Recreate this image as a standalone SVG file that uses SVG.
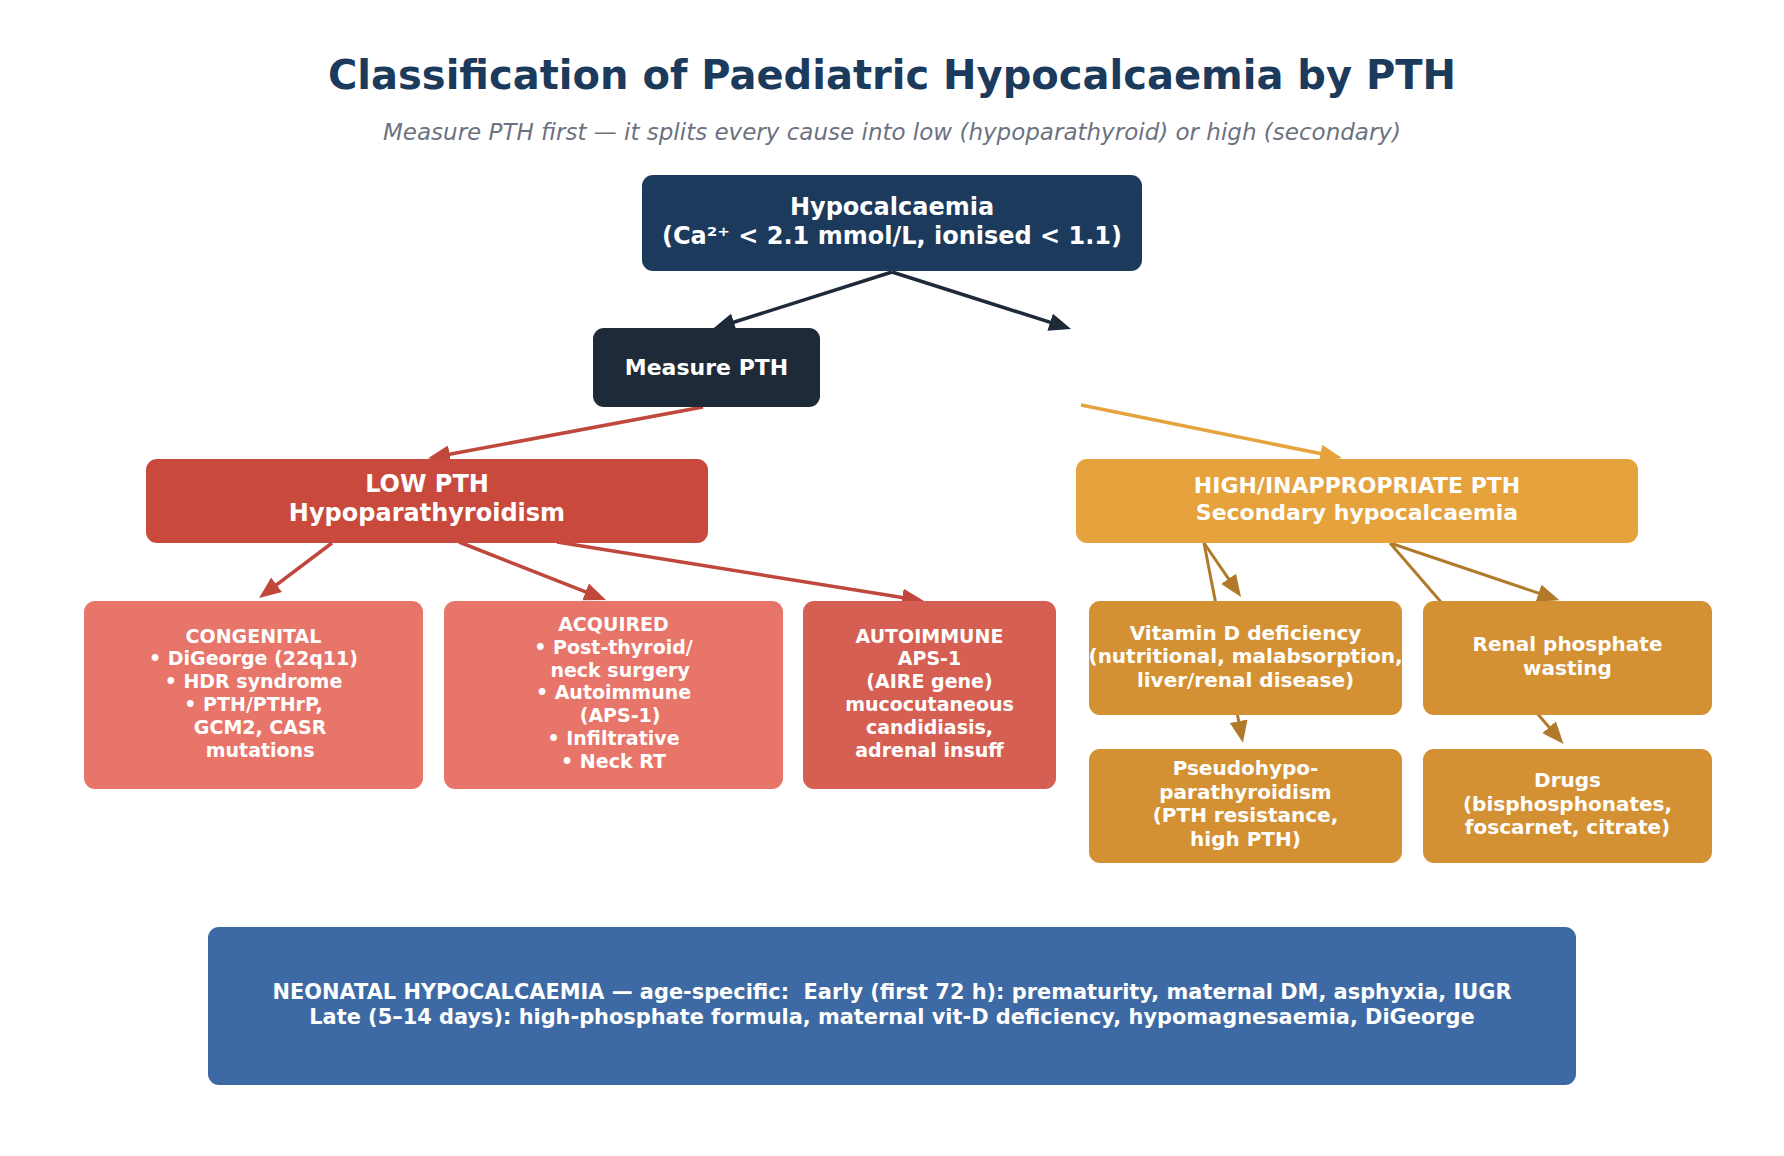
<svg xmlns="http://www.w3.org/2000/svg" width="1784" height="1156" viewBox="0 0 1784 1156">
<style>
text{font-family:"DejaVu Sans","Liberation Sans",sans-serif;font-weight:bold;fill:#ffffff;text-anchor:middle;white-space:pre}
.title{font-size:40px;fill:#1b3a5c}
.sub{font-size:23px;font-weight:normal;font-style:italic;fill:#6b7280}
.t24{font-size:24px}
.t22{font-size:22px}
.t21{font-size:22px}
.t19{font-size:19px}
.t20{font-size:20px}
.nn{font-size:20.9px}
.dark{stroke:#1f2a38;stroke-width:3.5;fill:none}
.red{stroke:#c0473b;stroke-width:3.5;fill:none}
.org{stroke:#e6a23c;stroke-width:3.5;fill:none}
.brn{stroke:#b07a2a;stroke-width:3;fill:none}
</style>
<defs>
<marker id="mDark" markerUnits="userSpaceOnUse" viewBox="0 0 22 18" markerWidth="22" markerHeight="18" refX="11" refY="9" orient="auto"><path d="M0,0 L22,9 L0,18 z" fill="#1f2a38"/></marker>
<marker id="mRed" markerUnits="userSpaceOnUse" viewBox="0 0 22 18" markerWidth="22" markerHeight="18" refX="11" refY="9" orient="auto"><path d="M0,0 L22,9 L0,18 z" fill="#c0473b"/></marker>
<marker id="mOrg" markerUnits="userSpaceOnUse" viewBox="0 0 22 18" markerWidth="22" markerHeight="18" refX="11" refY="9" orient="auto"><path d="M0,0 L22,9 L0,18 z" fill="#e6a23c"/></marker>
<marker id="mBrn" markerUnits="userSpaceOnUse" viewBox="0 0 22 18" markerWidth="22" markerHeight="18" refX="11" refY="9" orient="auto"><path d="M0,0 L22,9 L0,18 z" fill="#b07a2a"/></marker>
</defs>
<rect width="1784" height="1156" fill="#ffffff"/>
<text class="title" x="892" y="89">Classification of Paediatric Hypocalcaemia by PTH</text>
<text class="sub" x="892" y="140">Measure PTH first — it splits every cause into low (hypoparathyroid) or high (secondary)</text>

<g id="connectors">
<line class="dark" x1="892" y1="272" x2="723.4" y2="325.5" marker-end="url(#mDark)"/>
<line class="dark" x1="892" y1="272" x2="1060.6" y2="325.6" marker-end="url(#mDark)"/>
<line class="red" x1="703" y1="407" x2="438.8" y2="456.3" marker-end="url(#mRed)"/>
<line class="org" x1="1081" y1="405" x2="1331.2" y2="455.8" marker-end="url(#mOrg)"/>
<line class="red" x1="332" y1="543" x2="267.8" y2="591.4" marker-end="url(#mRed)"/>
<line class="red" x1="459" y1="542" x2="595.8" y2="595.9" marker-end="url(#mRed)"/>
<line class="red" x1="557" y1="542" x2="913.1" y2="599.3" marker-end="url(#mRed)"/>
<line class="brn" x1="1204" y1="543" x2="1234.8" y2="587.9" marker-end="url(#mBrn)"/>
<line class="brn" x1="1204" y1="543" x2="1240.8" y2="732" marker-end="url(#mBrn)"/>
<line class="brn" x1="1390" y1="543" x2="1549" y2="596.7" marker-end="url(#mBrn)"/>
<line class="brn" x1="1390" y1="543" x2="1556.3" y2="735.6" marker-end="url(#mBrn)"/>
</g>

<g id="n-hypocalcaemia">
<rect x="642" y="175" width="500" height="96" rx="11" fill="#1b3a5c"/>
<text class="t24" x="892" y="215">Hypocalcaemia</text>
<text class="t24" x="892" y="244">(Ca²⁺ &lt; 2.1 mmol/L, ionised &lt; 1.1)</text>
</g>
<g id="n-measure">
<rect x="593" y="328" width="227" height="79" rx="11" fill="#1f2a38"/>
<text class="t22" x="706.5" y="375">Measure PTH</text>
</g>
<g id="n-low">
<rect x="146" y="459" width="562" height="84" rx="11" fill="#c94a3d"/>
<text class="t24" x="427" y="492">LOW PTH</text>
<text class="t24" x="427" y="521">Hypoparathyroidism</text>
</g>
<g id="n-high">
<rect x="1076" y="459" width="562" height="84" rx="11" fill="#e6a23c"/>
<text class="t21" x="1357" y="493">HIGH/INAPPROPRIATE PTH</text>
<text class="t21" x="1357" y="520">Secondary hypocalcaemia</text>
</g>
<g id="n-congenital">
<rect x="84" y="601" width="339" height="188" rx="11" fill="#e8756a"/>
<text class="t19" x="253.5" y="642.5">CONGENITAL</text>
<text class="t19" x="253.5" y="665.3">• DiGeorge (22q11)</text>
<text class="t19" x="253.5" y="688.1">• HDR syndrome</text>
<text class="t19" x="253.5" y="710.9">• PTH/PTHrP,</text>
<text class="t19" x="253.5" y="733.7">  GCM2, CASR</text>
<text class="t19" x="253.5" y="756.5">  mutations</text>
</g>
<g id="n-acquired">
<rect x="444" y="601" width="339" height="188" rx="11" fill="#e8756a"/>
<text class="t19" x="613.5" y="631">ACQUIRED</text>
<text class="t19" x="613.5" y="653.8">• Post-thyroid/</text>
<text class="t19" x="613.5" y="676.6">  neck surgery</text>
<text class="t19" x="613.5" y="699.4">• Autoimmune</text>
<text class="t19" x="613.5" y="722.2">  (APS-1)</text>
<text class="t19" x="613.5" y="745">• Infiltrative</text>
<text class="t19" x="613.5" y="767.8">• Neck RT</text>
</g>
<g id="n-autoimmune">
<rect x="803" y="601" width="253" height="188" rx="11" fill="#d65f53"/>
<text class="t19" x="929.5" y="642.5">AUTOIMMUNE</text>
<text class="t19" x="929.5" y="665.3">APS-1</text>
<text class="t19" x="929.5" y="688.1">(AIRE gene)</text>
<text class="t19" x="929.5" y="710.9">mucocutaneous</text>
<text class="t19" x="929.5" y="733.7">candidiasis,</text>
<text class="t19" x="929.5" y="756.5">adrenal insuff</text>
</g>
<g id="n-vitd">
<rect x="1089" y="601" width="313" height="114" rx="11" fill="#d49133"/>
<text class="t20" x="1245.5" y="639.5">Vitamin D deficiency</text>
<text class="t20" x="1245.5" y="663">(nutritional, malabsorption,</text>
<text class="t20" x="1245.5" y="686.5">liver/renal disease)</text>
</g>
<g id="n-renal">
<rect x="1423" y="601" width="289" height="114" rx="11" fill="#d49133"/>
<text class="t20" x="1567.5" y="651">Renal phosphate</text>
<text class="t20" x="1567.5" y="674.5">wasting</text>
</g>
<g id="n-pseudo">
<rect x="1089" y="749" width="313" height="114" rx="11" fill="#d49133"/>
<text class="t20" x="1245.5" y="775">Pseudohypo-</text>
<text class="t20" x="1245.5" y="798.5">parathyroidism</text>
<text class="t20" x="1245.5" y="822">(PTH resistance,</text>
<text class="t20" x="1245.5" y="845.5">high PTH)</text>
</g>
<g id="n-drugs">
<rect x="1423" y="749" width="289" height="114" rx="11" fill="#d49133"/>
<text class="t20" x="1567.5" y="787">Drugs</text>
<text class="t20" x="1567.5" y="810.5">(bisphosphonates,</text>
<text class="t20" x="1567.5" y="834">foscarnet, citrate)</text>
</g>
<g id="n-neonatal">
<rect x="208" y="927" width="1368" height="158" rx="11" fill="#3d6aa4"/>
<text class="nn" x="892" y="999">NEONATAL HYPOCALCAEMIA — age-specific:  Early (first 72 h): prematurity, maternal DM, asphyxia, IUGR</text>
<text class="nn" x="892" y="1024">Late (5–14 days): high-phosphate formula, maternal vit-D deficiency, hypomagnesaemia, DiGeorge</text>
</g>
</svg>
